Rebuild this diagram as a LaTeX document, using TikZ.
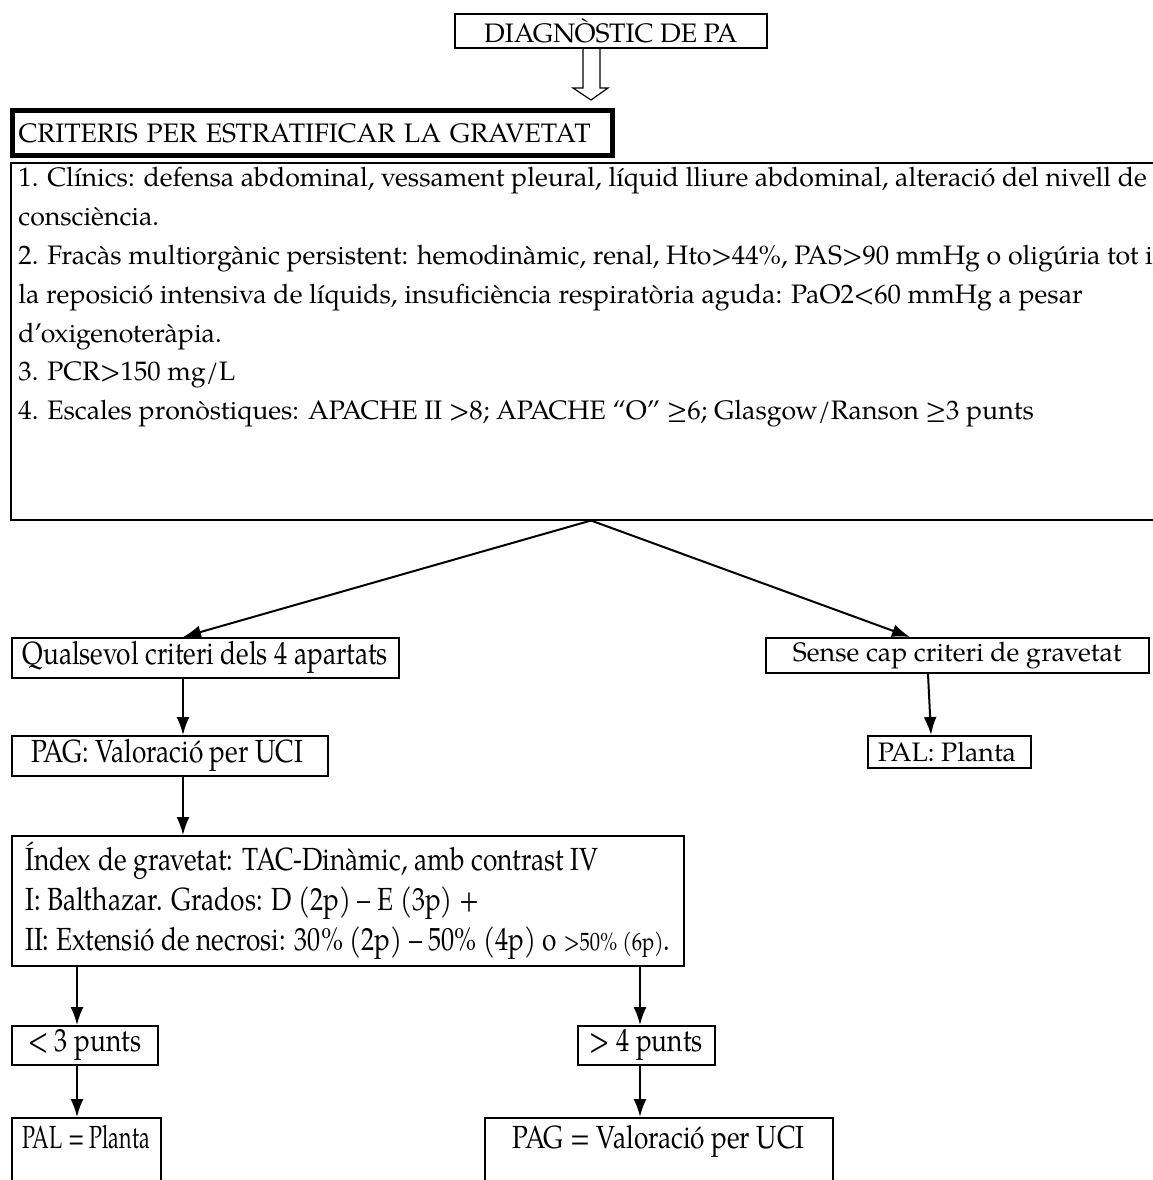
\documentclass[tikz,border=0pt]{standalone}
\usepackage{fontspec}
\setmainfont{TeX Gyre Pagella}
\newfontfamily\narrowfont{TeX Gyre Pagella}[FakeStretch=0.82]
\newfontfamily\narrowerfont{TeX Gyre Pagella}[FakeStretch=0.67]
\usetikzlibrary{positioning,calc,arrows.meta}

\tikzset{
  box/.style={draw, line width=0.75pt, anchor=north west, inner sep=2pt,
    font=\narrowfont\fontsize{16}{20}\selectfont},
  widebox/.style={box, font=\fontsize{13.35}{19.4}\selectfont},
  conn/.style={->, line width=1pt}
}

\begin{document}
\begin{tikzpicture}[x=0.5pt,y=-0.5pt,>={Latex[length=9pt,width=6.5pt]}]
    \clip (0,0) rectangle (1153,1180);
    \fill[white] (0,0) rectangle (1153,1180);

    \node[widebox, minimum width=156pt, minimum height=17pt] (diag) at (454,13) {DIAGNÒSTIC DE PA};
    \draw[line width=0.6pt] (583,47) -- (583,88) -- (573,88) -- (591,100) -- (608,88) -- (600,88) -- (600,47);

    \node[widebox, line width=2.5pt, minimum width=300pt, minimum height=22.5pt,
        text width=294pt, align=left] (grav) at (10,108) {CRITERIS PER ESTRATIFICAR LA GRAVETAT};

    \node[box, minimum width=585pt, minimum height=178.5pt] (crit) at (10,162) {};
    \node[anchor=north west, align=left, inner sep=0pt, font=\fontsize{13.35}{19.4}\selectfont]
        (critText) at (18,167) {1. Clínics: defensa abdominal, vessament pleural, líquid lliure abdominal, alteració del nivell de\\
        consciència.\\
        2. Fracàs multiorgànic persistent: hemodinàmic, renal, Hto>44\%, PAS>90 mmHg o oligúria tot i\\
        la reposició intensiva de líquids, insuficiència respiratòria aguda: PaO2<60 mmHg a pesar\\
        d’oxigenoteràpia.\\
        3. PCR>150 mg/L\\
        4. Escales pronòstiques: APACHE II >8; APACHE “O” ≥6; Glasgow/Ranson ≥3 punts};
    \coordinate (apex) at ($(crit.south west)+(581,0)$);

    \node[box, minimum width=193.5pt, minimum height=17.5pt] (qual) at (11,637) {Qualsevol criteri dels 4 apartats};
    \node[widebox, minimum width=191.5pt, minimum height=17.5pt] (sense) at (765,637) {Sense cap criteri de gravetat};
    \node[box, minimum width=158pt, minimum height=16pt] (pagu) at (11,735) {PAG: Valoració per UCI\,};
    \node[widebox, minimum width=81.5pt, minimum height=16pt] (palp) at (867,735) {PAL: Planta\,};

    \node[box, minimum width=336pt, minimum height=65pt, align=left] (index) at (11,835)
        {Índex de gravetat: TAC-Dinàmic, amb contrast IV\\
        I: Balthazar. Grados: D (2p) – E (3p) +\\
        II: Extensió de necrosi: 30\% (2p) – 50\% (4p) o {\fontsize{12.5}{14}\selectfont>50\% (6p)}.};

    \node[box, minimum width=73pt, minimum height=14pt] (menys) at (11,1025) {< 3 punts};
    \node[box, minimum width=68.5pt, minimum height=14pt] (mes) at (577,1025) {> 4 punts};
    \node[box, minimum width=74.5pt, inner ysep=4pt, text depth=20pt,
        font=\narrowerfont\fontsize{16}{20}\selectfont] (palf) at (11,1117) {PAL = Planta};
    \node[box, minimum width=174pt, inner ysep=4pt, text depth=20pt] (pagf) at (484,1117) {PAG = Valoració per UCI};

    \draw[conn] (apex) -- ($(qual.north west)+(172,0)$);
    \draw[conn] (apex) -- ($(sense.north west)+(145,0)$);
    \draw[conn] ($(qual.south west)+(172,0)$) -- ($(pagu.north west)+(172,0)$);
    \draw[conn] ($(sense.south west)+(163,0)$) -- ($(palp.north west)+(64,0)$);
    \draw[conn] ($(pagu.south west)+(172,0)$) -- ($(index.north west)+(172,0)$);
    \draw[conn] ($(index.south west)+(66,0)$) -- ($(menys.north west)+(66,0)$);
    \draw[conn] ($(index.south west)+(629,0)$) -- ($(mes.north west)+(63,0)$);
    \draw[conn] ($(menys.south west)+(66,0)$) -- ($(palf.north west)+(66,0)$);
    \draw[conn] ($(mes.south west)+(63,0)$) -- ($(pagf.north west)+(156,0)$);
\end{tikzpicture}
\end{document}
